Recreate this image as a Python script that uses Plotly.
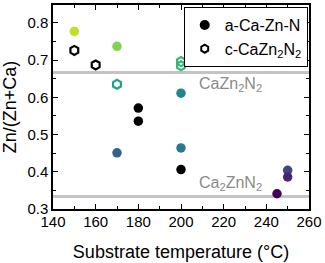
import plotly.graph_objects as go

# amorphous a-Ca-Zn-N (filled circles)
a_temp = [150, 170, 180, 180, 170, 200, 200, 200, 245, 250, 250]
a_ratio = [0.777, 0.737, 0.571, 0.536, 0.451, 0.611, 0.464, 0.406, 0.341, 0.404, 0.386]
a_colors = ["#c3df22", "#7fd34e", "#000000", "#000000", "#33638d", "#1f868b",
            "#2a788e", "#000000", "#440154", "#414487", "#482475"]

# crystalline c-CaZn2N2 (open hexagons)
c_temp = [150, 160, 170, 200, 200]
c_ratio = [0.726, 0.687, 0.635, 0.696, 0.685]
c_colors = ["#000000", "#000000", "#20a386", "#35b779", "#35b779"]

# reference compositions
ref_names = ["CaZn<sub>2</sub>N<sub>2</sub>", "Ca<sub>2</sub>ZnN<sub>2</sub>"]
ref_ratio = [2 / 3, 1 / 3]
ref_label_y = [0.635, 0.368]

x_ticks = [140, 160, 180, 200, 220, 240, 260]
y_ticks = [0.3, 0.4, 0.5, 0.6, 0.7, 0.8]

fig = go.Figure()

for r in ref_ratio:
    fig.add_hline(y=r, line=dict(color="#c4c4c4", width=3), layer="below")

fig.add_trace(go.Scatter(x=a_temp, y=a_ratio, mode="markers", showlegend=False,
                         marker=dict(symbol="circle", size=9.5, color=a_colors, line=dict(width=0))))
fig.add_trace(go.Scatter(x=c_temp, y=c_ratio, mode="markers", showlegend=False,
                         marker=dict(symbol="hexagon-open", size=9, color=c_colors,
                                     line=dict(width=2.2, color=c_colors))))

# legend-only entries
fig.add_trace(go.Scatter(x=[None], y=[None], mode="markers", name="a-Ca-Zn-N",
                         marker=dict(symbol="circle", size=10, color="black")))
fig.add_trace(go.Scatter(x=[None], y=[None], mode="markers", name="c-CaZn<sub>2</sub>N<sub>2</sub>",
                         marker=dict(symbol="hexagon-open", size=8, color="black",
                                     line=dict(width=2, color="black"))))

for name, ly in zip(ref_names, ref_label_y):
    fig.add_annotation(x=207.5, y=ly, text=name, showarrow=False, xanchor="left",
                       yanchor="middle", font=dict(size=16, color="#8a8a8a"))

font = "Liberation Sans, Arial, sans-serif"
axis_common = dict(showline=True, linecolor="black", linewidth=1.5, mirror="allticks",
                   ticks="inside", ticklen=5, tickwidth=1.2, tickcolor="black",
                   showgrid=False, zeroline=False, tickfont=dict(size=15, color="black"))

fig.update_xaxes(range=[140, 260], tickvals=x_ticks, ticklabelstandoff=-2,
                 title=dict(text="Substrate temperature (°C)", font=dict(size=18, color="black"), standoff=17),
                 minor=dict(dtick=10, ticks="inside", ticklen=3, tickcolor="black", showgrid=False),
                 **axis_common)
fig.update_yaxes(range=[0.3, 0.848], tickvals=y_ticks, tickformat=".1f",
                 title=dict(text="Zn/(Zn+Ca)", font=dict(size=18, color="black"), standoff=6),
                 minor=dict(dtick=0.05, tick0=0.3, ticks="inside", ticklen=3, tickcolor="black", showgrid=False),
                 **axis_common)

fig.update_layout(
    width=325, height=263,
    margin=dict(l=53, r=15, t=3, b=54),
    paper_bgcolor="white", plot_bgcolor="white",
    font=dict(family=font, color="black"),
    legend=dict(x=0.995, y=0.99, xanchor="right", yanchor="top",
                bgcolor="white", bordercolor="black", borderwidth=1,
                font=dict(size=16, color="black"), tracegroupgap=0, itemwidth=30),
)

fig.write_html("out.html", config={"displayModeBar": False},
               post_script="document.body.style.margin='0';")
